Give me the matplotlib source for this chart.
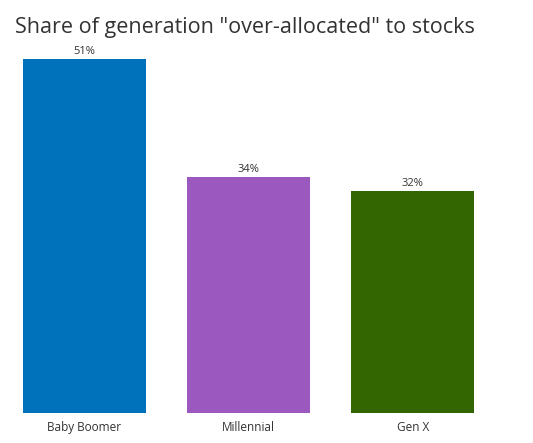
import matplotlib
matplotlib.use("Agg")
import matplotlib.pyplot as plt

categories = ["Baby Boomer", "Millennial", "Gen X"]
values = [51, 34, 32]
labels = ["51%", "34%", "32%"]
colors = ["#0072BB", "#9B59BF", "#336600"]

plt.rcParams['font.family'] = ['Open Sans', 'DejaVu Sans']

W, H = 533, 443
fig = plt.figure(figsize=(W / 100, H / 100), dpi=100)
ax = fig.add_axes([2.25 / W, (H - 413) / H, (495 - 2.25) / W, (413 - 59) / H])

x = range(len(categories))
ax.bar(x, values, width=0.75, color=colors)
for xi, v, lab in zip(x, values, labels):
    ax.text(xi, v + 0.25, lab, ha="center", va="bottom", fontsize=8, color="#333333", clip_on=False)

ax.set_xlim(-0.5, 2.5)
ax.set_ylim(0, 51)
ax.set_xticks(list(x))
ax.set_xticklabels(categories, fontsize=8.5, color="#333333")
ax.tick_params(axis="x", length=0, pad=6)
ax.set_yticks([])
for s in ax.spines.values():
    s.set_visible(False)

fig.text(15 / W, 1 - 27 / H, 'Share of generation "over-allocated" to stocks',
         fontsize=15.5, color="#333333", ha="left", va="center")

fig.savefig("out.png", dpi=100)
